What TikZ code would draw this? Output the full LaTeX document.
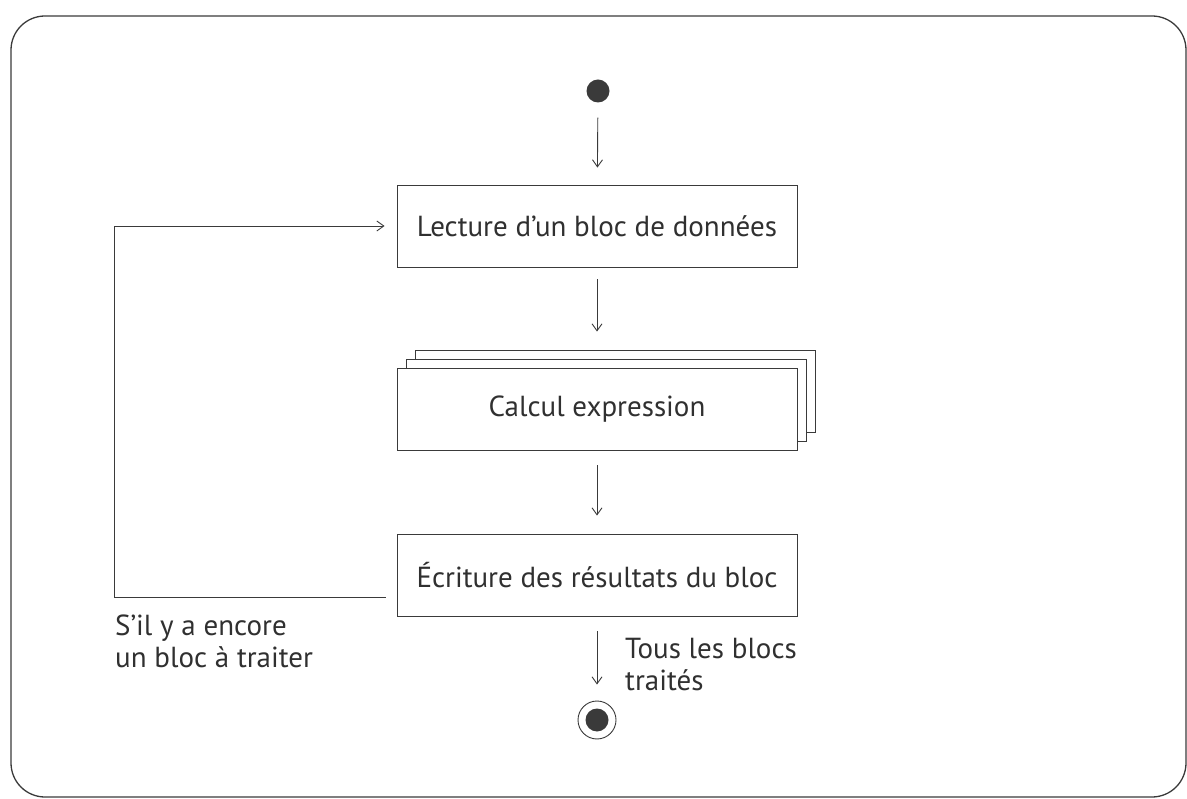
\documentclass[tikz,border=0pt]{standalone}
\usepackage{fontspec}
\setmainfont{PT Sans}
\usetikzlibrary{arrows.meta}
\definecolor{ink}{HTML}{3A3A3A}
\definecolor{txt}{HTML}{303030}
\begin{document}
\begin{tikzpicture}[x=1pt,y=-1pt,
  frame/.style={draw=ink,line width=1.3pt,rounded corners=34pt},
  act/.style={draw=ink,line width=0.9pt,fill=white,minimum width=400pt,minimum height=82pt,
    inner sep=0pt,text=txt,font=\fontsize{29}{32}\selectfont},
  initdot/.style={circle,fill=ink,minimum size=23pt,inner sep=0pt},
  finalring/.style={circle,draw=ink,line width=0.9pt,minimum size=38pt,inner sep=0pt},
  flow/.style={draw=ink,line width=0.9pt,-{Straight Barb[length=7pt,width=10pt]}},
  lbl/.style={text=txt,font=\fontsize{29}{32}\selectfont,align=left,inner sep=0pt}]
\useasboundingbox (0,0) rectangle (1187,799);

% outer frame
\draw[frame] (11,16) rectangle (1186,797);

% initial node
\node[initdot] (start) at (598,91) {};

% actions
\node[act] (read) at (597,226) {Lecture d'un bloc de données};
\node[act] (calcB) at (615,391) {};
\node[act] (calcA) at (606,400) {};
\node[act] (calc) at (597,409) {Calcul expression};
\node[act] (write) at (597,575) {Écriture des résultats du bloc};

% final node
\node[finalring] (end) at (597,720) {};
\node[initdot] (endDot) at (end) {};

% flow
\draw[flow,shorten <=15pt,shorten >=17pt] (start) -- (read);
\draw[flow,shorten <=12pt,shorten >=18pt] (read.south) -- (read.south |- calcB.north);
\draw[flow,shorten <=15pt,shorten >=18pt] (calc.south) -- (write.north);
\draw[flow,shorten <=15pt,shorten >=16pt] (write.south) -- (end.north);
\draw[flow,shorten <=11pt,shorten >=12pt] ([yshift=-22pt]write.west) -- ++(-282,0) |- (read.west);

% guard labels (anchored on the baseline of their last line)
\node[lbl,anchor=base west] (more) at (115,667) {S'il y a encore\\un bloc à traiter};
\node[lbl,anchor=base west] (done) at (625,690) {Tous les blocs\\traités};
\end{tikzpicture}
\end{document}
